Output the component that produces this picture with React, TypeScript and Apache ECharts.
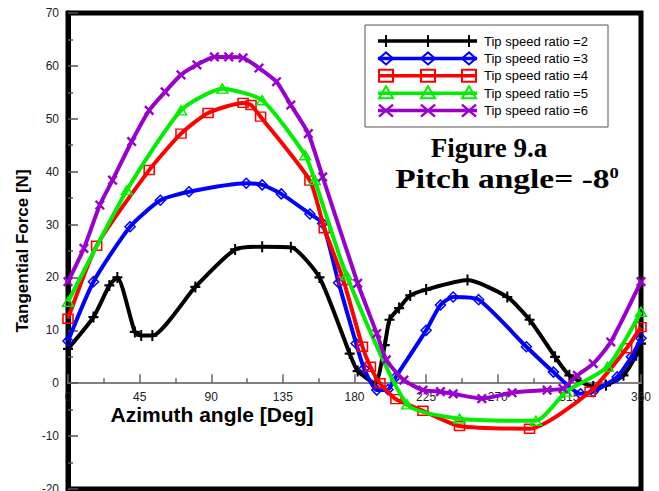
import React, { useEffect, useRef } from "react";
import * as echarts from "echarts";

// ---- data (azimuth angle [deg], tangential force [N]) ----
const tsr2: number[][] = [
  [0, 6.5], [16, 12.5], [26, 18.5], [31, 20], [42, 9.7], [46, 9], [53, 9], [80, 18.2],
  [105, 25.3], [122, 25.8], [140, 25.7], [158, 20], [177, 5.6], [182, 2.3], [193, 0],
  [199, 7.2], [202, 12], [208, 14.2], [215, 16.6], [225, 17.7], [251, 19.5], [276, 16.3],
  [290, 12], [306, 5], [315, 1.5], [330, -0.6], [338, -0.4], [349, 1.5], [357, 5.3], [360, 7.5],
];
const tsr3: number[][] = [
  [0, 8], [16, 19.2], [39, 29.6], [58, 34.6], [76, 36.2], [112, 37.8], [122, 37.5],
  [134, 35.8], [152, 32], [160, 30.2], [170, 19], [181, 7.5], [186, 2.8], [194, -1.3],
  [201, -1.2], [206, 1.2], [225, 10], [234, 14.8], [242, 16.3], [258, 15.8], [288, 6.9],
  [305, 2.1], [322, -2], [330, -1.6], [345, 1.2], [354, 5], [360, 8.5],
];
const tsr4: number[][] = [
  [0, 12.2], [18, 26], [51, 40.3], [71, 47.2], [88, 51.1], [110, 53], [115, 52.6],
  [121, 50.4], [152, 38.3], [161, 29.3], [173, 19.5], [185, 6.9], [190, 3.1], [196, 0],
  [206, -3], [223, -5.2], [246, -8.1], [290, -8.6], [328, -1.6], [351, 6.6], [360, 10.6],
];
const tsr5: number[][] = [
  [0, 15.4], [37, 36.5], [71, 51.6], [97, 55.7], [122, 53.5], [149, 43.1], [155, 38.4],
  [175, 20.4], [213, -4], [246, -6.7], [294, -7.1], [313, -1.6], [339, 3.1], [360, 13.5],
];
const tsr6: number[][] = [
  [0, 19.2], [10, 25.5], [20, 33.7], [28, 38.4], [40, 45.7], [51, 51.6], [61, 55.1],
  [71, 58.3], [81, 60.2], [92, 61.7], [101, 61.7], [110, 61.5], [120, 59.6], [131, 57],
  [140, 52.6], [151, 47.2], [160, 39], [182, 18.9], [194, 9.4], [200, 4.4], [211, 0.6],
  [223, -1.3], [234, -1.6], [242, -2], [260, -2.9], [279, -1.8], [301, -1.3], [311, -1],
  [320, 1.5], [330, 3.7], [341, 7.8], [360, 19.2],
];
const seriesNames = [
  "Tip speed ratio =2",
  "Tip speed ratio =3",
  "Tip speed ratio =4",
  "Tip speed ratio =5",
  "Tip speed ratio =6",
];
const xTicks = [0, 45, 90, 135, 180, 225, 270, 315, 360];
const yTicks = [-20, -10, 0, 10, 20, 30, 40, 50, 60, 70];

const colors = ["#000000", "#0000ff", "#ff0000", "#00ee00", "#9900cc"];
const PLUS = "path://M4,0h2v4h4v2h-4v4h-2v-4h-4v-2h4z";
const SANS = "'Liberation Sans', Arial, sans-serif";
const SERIF = "'Liberation Serif', 'Times New Roman', serif";

const markerDefs = [
  { symbol: PLUS, size: [10, 11], rotate: 0, hollow: false },
  { symbol: "diamond", size: [10, 10], rotate: 0, hollow: true },
  { symbol: "rect", size: [10, 9], rotate: 0, hollow: true },
  { symbol: "triangle", size: [11, 9], rotate: 0, hollow: true },
  { symbol: PLUS, size: [12, 12], rotate: 45, hollow: false },
];

function legendMarker(kind: number, cx: number, cy: number, color: string): any[] {
  const st = { stroke: color, lineWidth: 2, fill: null };
  if (kind === 0)
    return [
      { type: "line", shape: { x1: cx, y1: cy - 6, x2: cx, y2: cy + 6 }, style: st },
      { type: "line", shape: { x1: cx - 6, y1: cy, x2: cx + 6, y2: cy }, style: st },
    ];
  if (kind === 1)
    return [{ type: "polygon", shape: { points: [[cx - 7, cy], [cx, cy - 6], [cx + 7, cy], [cx, cy + 6]] }, style: st }];
  if (kind === 2)
    return [{ type: "rect", shape: { x: cx - 7, y: cy - 6, width: 14, height: 12 }, style: st }];
  if (kind === 3)
    return [{ type: "polygon", shape: { points: [[cx - 7, cy + 5], [cx, cy - 7], [cx + 7, cy + 5]] }, style: st }];
  return [
    { type: "line", shape: { x1: cx - 7, y1: cy - 6, x2: cx + 7, y2: cy + 6 }, style: { ...st, lineWidth: 2.5 } },
    { type: "line", shape: { x1: cx - 7, y1: cy + 6, x2: cx + 7, y2: cy - 6 }, style: { ...st, lineWidth: 2.5 } },
  ];
}

export default function App() {
  const ref = useRef<HTMLDivElement>(null);
  useEffect(() => {
    if (!ref.current) return;
    const chart = echarts.init(ref.current, undefined, { renderer: "svg" });
    const allData = [tsr2, tsr3, tsr4, tsr5, tsr6];

    const legendEls: any[] = [
      {
        type: "rect",
        shape: { x: 365, y: 25, width: 243, height: 102 },
        style: { fill: "#fff", stroke: "#555", lineWidth: 1 },
        z: 10,
      },
    ];
    seriesNames.forEach((name, i) => {
      const cy = 41 + i * 17.4;
      legendEls.push({
        type: "line",
        shape: { x1: 378, y1: cy, x2: 477, y2: cy },
        style: { stroke: colors[i], lineWidth: 3.5 },
        z: 11,
      });
      [386, 428, 469].forEach((cx) => {
        legendMarker(i, cx, cy, colors[i]).forEach((m) => legendEls.push({ ...m, z: 12 }));
      });
      legendEls.push({
        type: "text",
        x: 484,
        y: cy,
        style: { text: name, font: `13px ${SANS}`, fill: "#000", verticalAlign: "middle" },
        z: 12,
      });
    });

    chart.setOption({
      animation: false,
      backgroundColor: "#fff",
      grid: {
        left: 68,
        right: 18,
        top: 13,
        bottom: 2,
        show: true,
        borderColor: "#000",
        borderWidth: 5,
        backgroundColor: "transparent",
        outerBoundsMode: "none",
        containLabel: false,
      },
      xAxis: {
        type: "value",
        min: 0,
        max: 360,
        interval: 45,
        axisLine: { onZero: true, lineStyle: { color: "#808080", width: 2 } },
        axisTick: { show: true, inside: true, length: 9, lineStyle: { color: "#666", width: 1.5 } },
        minorTick: { show: true, splitNumber: 2, length: 5, lineStyle: { color: "#666", width: 1.5 } },
        axisLabel: {
          color: "#222",
          fontSize: 12,
          fontFamily: SANS,
          margin: -98,
          formatter: (v: number) => (xTicks.includes(v) ? String(v) : ""),
        },
        splitLine: { show: false },
      },
      yAxis: {
        type: "value",
        min: -20,
        max: 70,
        interval: 10,
        name: "Tangential Force [N]",
        nameLocation: "middle",
        nameGap: 29,
        nameTextStyle: { fontSize: 17, fontWeight: "bold", fontFamily: SANS, color: "#000" },
        axisLine: { show: true, lineStyle: { color: "#000", width: 5 } },
        axisTick: { show: true, inside: true, length: 10, lineStyle: { color: "#555", width: 1.5 } },
        minorTick: { show: true, splitNumber: 2, length: 5, lineStyle: { color: "#555", width: 1.5 } },
        axisLabel: {
          color: "#222",
          fontSize: 12,
          fontFamily: SANS,
          margin: 9,
          formatter: (v: number) => (yTicks.includes(v) ? String(v) : ""),
        },
        splitLine: { show: false },
      },
      series: allData.map((d, i) => {
        const m = markerDefs[i];
        return {
          name: seriesNames[i],
          type: "line",
          data: d,
          smooth: 0.2,
          symbol: m.symbol,
          symbolSize: m.size,
          symbolRotate: m.rotate,
          showAllSymbol: true,
          lineStyle: { color: colors[i], width: 4 },
          itemStyle: m.hollow
            ? { color: "rgba(255,255,255,0)", borderColor: colors[i], borderWidth: 1.5 }
            : { color: colors[i], borderWidth: 0 },
          emphasis: { disabled: true },
          z: 3 + i,
        };
      }),
      graphic: [
        ...legendEls,
        {
          type: "text",
          x: 212,
          y: 414,
          style: {
            text: "Azimuth angle [Deg]",
            font: `bold 21px ${SANS}`,
            fill: "#000",
            align: "center",
            verticalAlign: "middle",
          },
          z: 20,
        },
        {
          type: "text",
          x: 489,
          y: 148,
          style: {
            text: "Figure 9.a",
            font: `bold 27px ${SERIF}`,
            fill: "#000",
            align: "center",
            verticalAlign: "middle",
          },
          z: 20,
        },
        {
          type: "text",
          x: 507,
          y: 179,
          scaleX: 1.24,
          style: {
            text: "{b|Pitch angle= -8}{s|0}",
            align: "center",
            verticalAlign: "middle",
            rich: {
              b: { font: `bold 27px ${SERIF}`, fill: "#000", verticalAlign: "bottom" },
              s: { font: `bold 15px ${SERIF}`, fill: "#000", verticalAlign: "top" },
            },
          },
          z: 20,
        },
      ],
    });
    return () => chart.dispose();
  }, []);
  return <div ref={ref} style={{ width: 659, height: 491, position: "absolute", left: 0, top: 0 }} />;
}
